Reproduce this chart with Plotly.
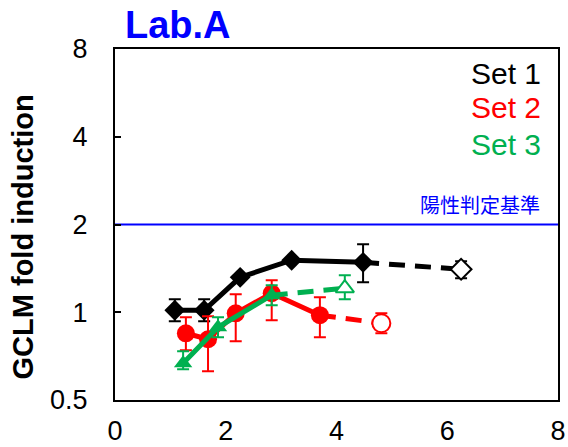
import numpy as np
import plotly.graph_objects as go

# ---- data ----
s1_x = [1.08, 1.61, 2.26, 3.19, 4.48]
s1_y = [1.016, 1.016, 1.318, 1.508, 1.484]
s1_hi = [1.108, 1.108, 1.318, 1.508, 1.711]
s1_lo = [0.931, 0.931, 1.318, 1.508, 1.267]
s1_open_x = [6.25]
s1_open_y = [1.404]
s1_open_hi = [1.496]
s1_open_lo = [1.308]

s2_x = [1.28, 1.68, 2.18, 2.83, 3.70]
s2_y = [0.847, 0.808, 0.992, 1.162, 0.977]
s2_hi = [0.961, 0.969, 1.153, 1.288, 1.126]
s2_lo = [0.741, 0.627, 0.795, 0.939, 0.821]
s2_open_x = [4.81]
s2_open_y = [0.917]
s2_open_hi = [0.992]
s2_open_lo = [0.847]

s3_x = [1.23, 1.86, 2.83]
s3_y = [0.668, 0.888, 1.144]
s3_hi = [0.735, 0.961, 1.238]
s3_lo = [0.637, 0.821, 1.057]
s3_open_x = [4.15]
s3_open_y = [1.209]
s3_open_hi = [1.339]
s3_open_lo = [1.108]

series_names = ["Set 1", "Set 2", "Set 3"]
threshold = 2
threshold_label = "陽性判定基準"
x_ticks = [0, 2, 4, 6, 8]
y_ticks = [0.5, 1, 2, 4, 8]

BLACK = "#000000"
RED = "#FF0000"
GREEN = "#00B050"
BLUE = "#0000FF"
FONT = "Liberation Sans, Arial, sans-serif"

fig = go.Figure()


def err(y, hi, lo, color):
    y = np.array(y); hi = np.array(hi); lo = np.array(lo)
    return dict(type="data", symmetric=False, array=(hi - y).tolist(),
                arrayminus=(y - lo).tolist(), color=color, thickness=2, width=6)


def add_series(x, y, hi, lo, ox, oy, ohi, olo, color, symbol, size):
    # dashed connector from last filled point to open point
    fig.add_trace(go.Scatter(x=[x[-1], ox[0]], y=[y[-1], oy[0]], mode="lines",
                             line=dict(color=color, width=5, dash="16px,10px"),
                             showlegend=False, hoverinfo="skip"))
    fig.add_trace(go.Scatter(x=x, y=y, mode="lines+markers",
                             line=dict(color=color, width=5),
                             marker=dict(symbol=symbol, size=size, color=color,
                                         line=dict(width=0)),
                             error_y=err(y, hi, lo, color), showlegend=False))
    fig.add_trace(go.Scatter(x=ox, y=oy, mode="markers",
                             marker=dict(symbol=symbol, size=size, color="white",
                                         line=dict(width=2, color=color)),
                             error_y=err(oy, ohi, olo, color), showlegend=False))


# threshold line
fig.add_trace(go.Scatter(x=[0, 8], y=[threshold, threshold], mode="lines",
                         line=dict(color=BLUE, width=2), showlegend=False,
                         hoverinfo="skip"))

add_series(s1_x, s1_y, s1_hi, s1_lo, s1_open_x, s1_open_y, s1_open_hi, s1_open_lo,
           BLACK, "diamond", 16)
add_series(s2_x, s2_y, s2_hi, s2_lo, s2_open_x, s2_open_y, s2_open_hi, s2_open_lo,
           RED, "circle", 18)
add_series(s3_x, s3_y, s3_hi, s3_lo, s3_open_x, s3_open_y, s3_open_hi, s3_open_lo,
           GREEN, "triangle-up", 16)

fig.update_layout(
    width=568, height=447,
    margin=dict(l=115, r=10, t=49, b=47),
    paper_bgcolor="white", plot_bgcolor="white",
    font=dict(family=FONT, color="black", size=27),
    showlegend=False,
)
fig.update_xaxes(range=[0, 8], tickvals=x_ticks, ticks="", showgrid=False,
                 zeroline=False, showline=True, linecolor="black", linewidth=2,
                 mirror=True, tickfont=dict(size=27, family=FONT),
                 ticklabelstandoff=6, automargin=False)
fig.update_yaxes(type="log", range=[np.log10(0.5), np.log10(8)], tickvals=y_ticks,
                 ticktext=[str(v) for v in y_ticks], ticks="inside", ticklen=6,
                 tickwidth=2, tickcolor="black", showgrid=False, zeroline=False,
                 showline=True, linecolor="black", linewidth=2, mirror=True,
                 tickfont=dict(size=27, family=FONT), ticklabelstandoff=20,
                 automargin=False)

# title
fig.add_annotation(text="<b>Lab.A</b>", xref="paper", yref="paper", x=0.142, y=1.068,
                   xanchor="center", yanchor="middle", showarrow=False,
                   font=dict(size=38, color=BLUE, family=FONT))
# y axis title
fig.add_annotation(text="<b>GCLM fold induction</b>", xref="paper", yref="paper",
                   x=-0.207, y=0.464, xanchor="center", yanchor="middle",
                   textangle=-90, showarrow=False,
                   font=dict(size=29, color="black", family=FONT))
# legend as text
for name, col, yy in zip(series_names, [BLACK, RED, GREEN], [0.929, 0.832, 0.729]):
    fig.add_annotation(text=name, xref="paper", yref="paper", x=0.966, y=yy,
                       xanchor="right", yanchor="middle", showarrow=False,
                       font=dict(size=30, color=col, family=FONT))
# threshold label
fig.add_annotation(text=threshold_label, xref="x", yref="y", x=7.71, y=np.log10(threshold),
                   xanchor="right", yanchor="bottom", yshift=4, showarrow=False,
                   font=dict(size=20, color=BLUE, family="Noto Sans CJK JP"))

fig.write_html("out.html")
